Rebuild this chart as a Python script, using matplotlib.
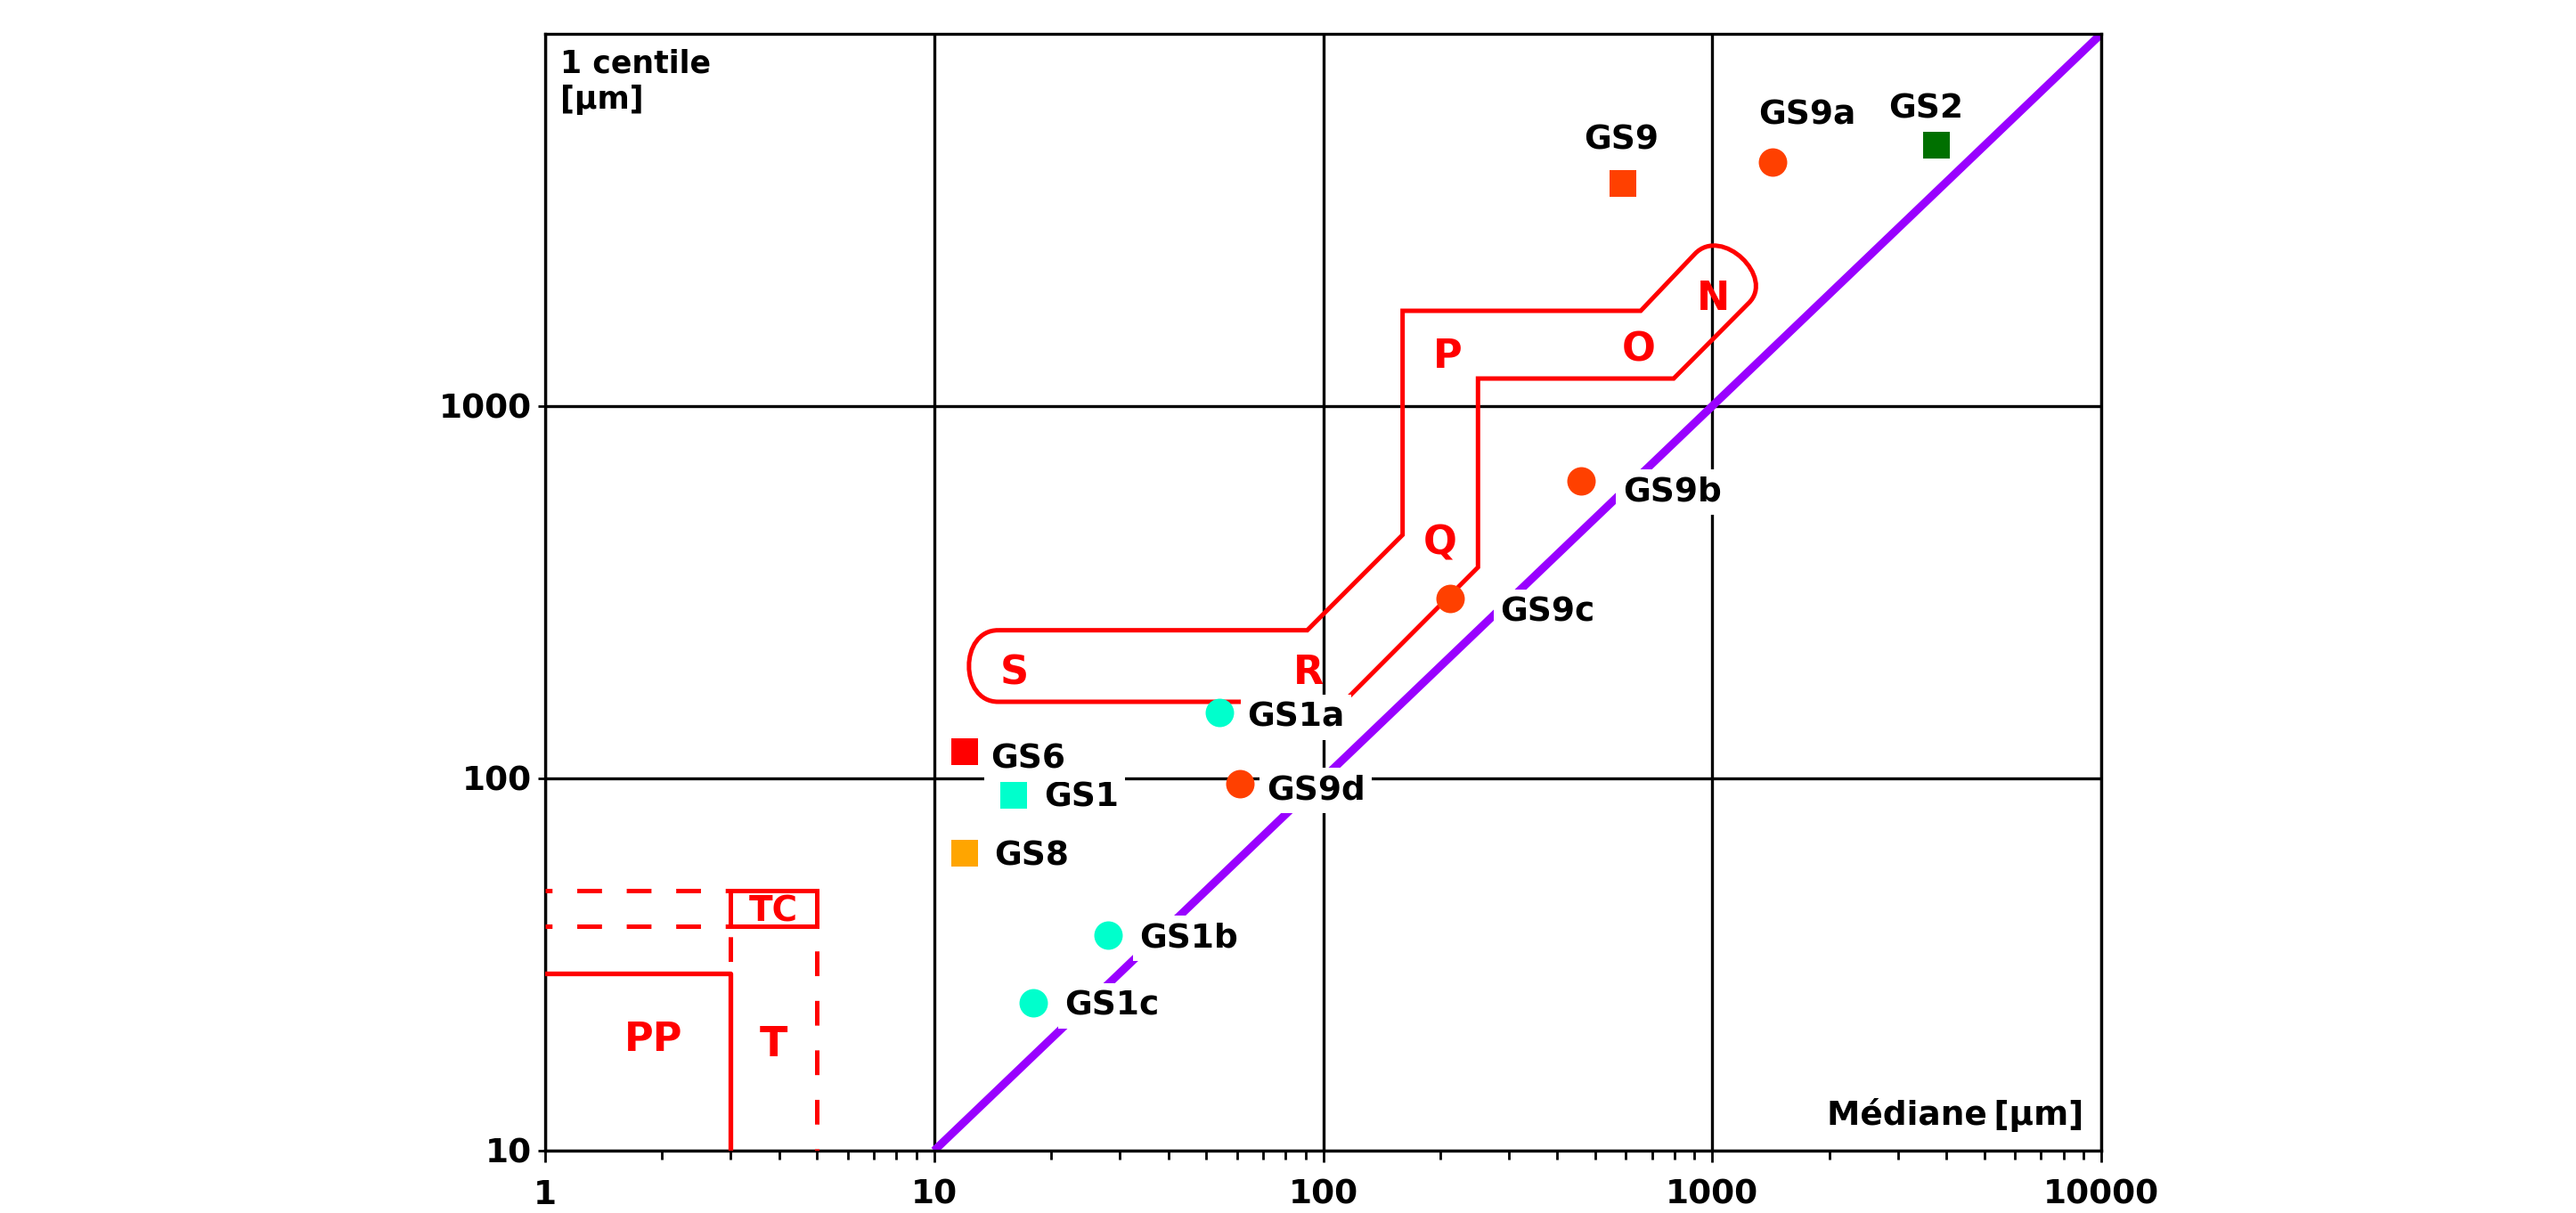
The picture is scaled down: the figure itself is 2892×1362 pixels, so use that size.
import matplotlib
matplotlib.use("Agg")
import matplotlib.pyplot as plt
from matplotlib.path import Path
from matplotlib.patches import PathPatch
from matplotlib.ticker import LogLocator, NullFormatter, NullLocator

plt.rcParams['font.family'] = ['DejaVu Sans']
plt.rcParams['font.weight'] = 'bold'
plt.rcParams['lines.scale_dashes'] = False

# points mesures (mediane, 1 centile) en microns
circle_names = ['GS1a', 'GS1b', 'GS1c', 'GS9a', 'GS9b', 'GS9c', 'GS9d']
circle_median = [54, 28, 18, 1430, 460, 212, 61]
circle_centile = [150, 38, 25, 4530, 630, 304, 97]
circle_colors = ['#00FFCC', '#00FFCC', '#00FFCC', '#FF4000', '#FF4000', '#FF4000', '#FF4000']

square_names = ['GS1', 'GS2', 'GS6', 'GS8', 'GS9']
square_median = [16, 3770, 12, 12, 590]
square_centile = [90, 5030, 118, 63, 3970]
square_colors = ['#00FFCC', '#007000', '#FF0000', '#FFA500', '#FF4000']

# decalage des etiquettes (pixels)
label_offsets = {
    'GS1a': (32, -15), 'GS1b': (35, -14), 'GS1c': (35, -14),
    'GS9a': (-16, 42), 'GS9b': (47, -23), 'GS9c': (56, -25), 'GS9d': (30, -18),
    'GS1': (34, -12), 'GS2': (-54, 30), 'GS6': (29, -19), 'GS8': (33, -14),
    'GS9': (-44, 38),
}

# droite C = M
diag_x = [10, 10000]
diag_y = [10, 10000]

# contour N-O-P-Q-R-S (sommets + points de controle des arrondis)
zone_x = [14.6, 91, 160, 160, 655, 903, 1060, 1455, 1240, 796, 250, 250, 113, 14.6, 11.6, 11.6, 14.6]
zone_y = [250, 250, 451, 1803, 1803, 2566, 3054, 2219, 1890, 1186, 1186, 369, 160.6, 160.6, 160.6, 250, 250]

# zones PP, T, TC
pp_x = [1, 3, 3]
pp_y = [30, 30, 10]
tc_x = [3, 5, 5, 3, 3]
tc_y = [40, 40, 50, 50, 40]
dash_h_x = [1, 3]
dash_h_y = [50, 40]
dash_t3_x = [3, 3]
dash_t3_y = [40, 30]
dash_t5_x = [5, 5]
dash_t5_y = [40, 10]

zone_letters = ['N', 'O', 'P', 'Q', 'R', 'S', 'PP', 'T', 'TC']
letter_x = [1005, 648, 209, 200, 91.9, 16.1, 1.9, 3.86, 3.86]
letter_y = [1810, 1324, 1269, 399, 179, 179, 18.5, 17.9, 41.2]
letter_size = [32, 32, 32, 32, 32, 32, 32, 33, 28]

xticks = [1, 10, 100, 1000, 10000]
xticklabels = ['1', '10', '100', '1000', '10000']
yticks = [10, 100, 1000]
yticklabels = ['10', '100', '1000']

RED = '#FF0000'

fig = plt.figure(figsize=(28.92, 13.62), dpi=100)
ax = fig.add_axes([612 / 2892, 1 - 1292 / 1362, 1747 / 2892, 1254 / 1362])
ax.set_xscale('log')
ax.set_yscale('log')

ax.set_axisbelow(True)
ax.grid(True, which='major', color='black', lw=2.4)
for s in ax.spines.values():
    s.set_linewidth(2.4)

ax.set_xticks(xticks, xticklabels)
ax.set_yticks(yticks, yticklabels)
ax.xaxis.set_minor_locator(LogLocator(base=10, subs=range(2, 10)))
ax.xaxis.set_minor_formatter(NullFormatter())
ax.yaxis.set_minor_locator(NullLocator())
ax.tick_params(axis='x', which='major', length=9, width=2, pad=14, labelsize=27)
ax.tick_params(axis='x', which='minor', length=7, width=2)
ax.tick_params(axis='y', which='major', length=6, width=2, pad=5, labelsize=27)
ax.set_xlim(1, 10000)
ax.set_ylim(10, 10000)

# droite violette
ax.plot(diag_x, diag_y, color='#9900FF', lw=6.5, zorder=2, solid_capstyle='butt')

# contour des zones
codes = [Path.MOVETO] + [Path.LINETO] * 5 + [Path.CURVE4] * 3 + [Path.LINETO] * 5 + [Path.CURVE4] * 3
zone = PathPatch(Path(list(zip(zone_x, zone_y)), codes), fill=False, ec=RED, lw=3.6,
                 joinstyle='miter', zorder=3)
ax.add_patch(zone)

ax.plot(pp_x, pp_y, color=RED, lw=3.8, zorder=3)
ax.plot(tc_x, tc_y, color=RED, lw=3.6, zorder=3, solid_joinstyle='miter')
for yv in dash_h_y:
    ax.plot(dash_h_x, [yv, yv], color=RED, lw=3.6, zorder=3, linestyle=(14.4, (20, 20)))
ax.plot(dash_t3_x, dash_t3_y, color=RED, lw=3.6, zorder=3, linestyle=(31.5, (20, 20)))
ax.plot(dash_t5_x, dash_t5_y, color=RED, lw=3.6, zorder=3, linestyle=(20, (20, 20)))

for name, lx, ly, fs in zip(zone_letters, letter_x, letter_y, letter_size):
    ax.text(lx, ly, name, color=RED, fontsize=fs, fontweight='bold',
            ha='center', va='baseline', zorder=4)

# points
for mx, my, c in zip(circle_median, circle_centile, circle_colors):
    ax.plot(mx, my, 'o', ms=23, color=c, mew=0, zorder=5)
for mx, my, c in zip(square_median, square_centile, square_colors):
    ax.plot(mx, my, 's', ms=21.5, color=c, mew=0, zorder=5)

for names, xs, ys in ((circle_names, circle_median, circle_centile),
                      (square_names, square_median, square_centile)):
    for name, mx, my in zip(names, xs, ys):
        ax.annotate(name, (mx, my), xytext=label_offsets[name], textcoords='offset pixels',
                    ha='left', va='baseline', fontsize=27, fontweight='bold', zorder=6,
                    bbox=dict(boxstyle='square,pad=0.2', fc='white', ec='none'))

ax.text(0.0097, 0.987, '1 centile\n[µm]', transform=ax.transAxes, ha='left', va='top',
        fontsize=25, fontweight='bold', linespacing=1.25, zorder=6)
ax.text(0.989, 0.0231, 'Médiane\u2009[µm]', transform=ax.transAxes, ha='right',
        va='baseline', fontsize=27, fontweight='bold', zorder=6)

fig.savefig('out.png', dpi=100, facecolor='white')
